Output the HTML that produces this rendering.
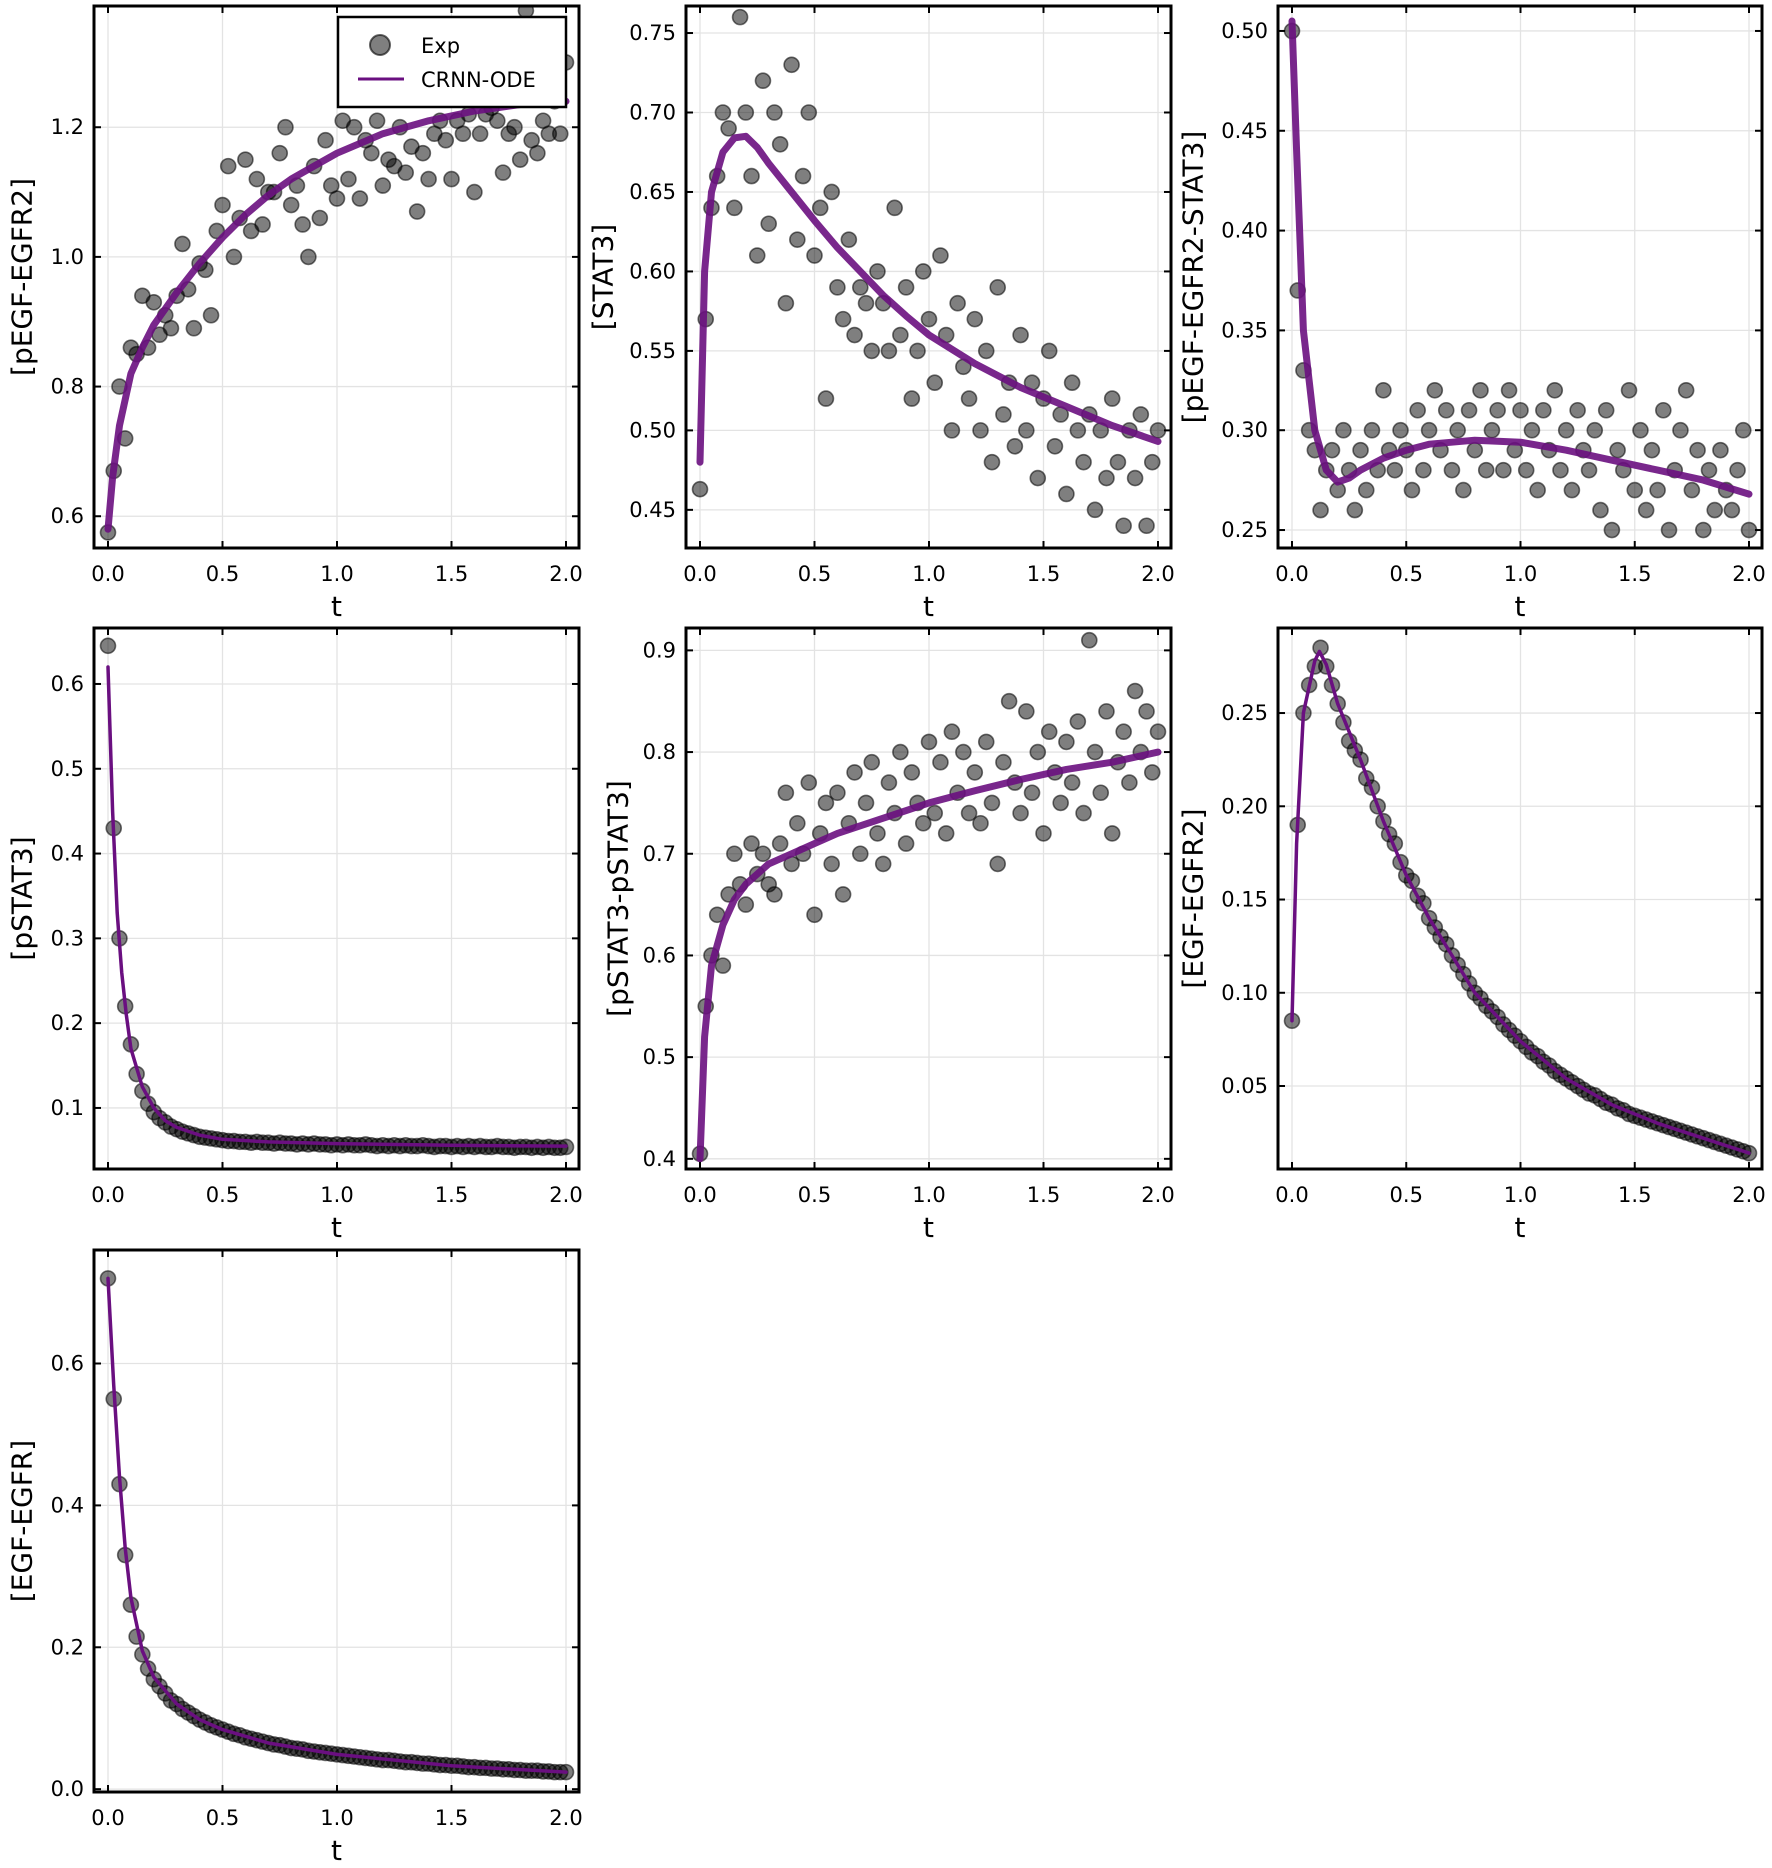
<!DOCTYPE html>
<html><head><meta charset="utf-8">
<style>
html,body{margin:0;padding:0;background:#fff;}
svg{display:block;font-family:"DejaVu Sans","Liberation Sans",sans-serif;}
</style></head>
<body>
<svg id="fig" width="1772" height="1868" viewBox="0 0 1772 1868" xmlns="http://www.w3.org/2000/svg"></svg>
<script>
const T = [0,0.025,0.05,0.075,0.1,0.125,0.15,0.175,0.2,0.225,0.25,0.275,0.3,0.325,0.35,0.375,0.4,0.425,0.45,0.475,0.5,0.525,0.55,0.575,0.6,0.625,0.65,0.675,0.7,0.725,0.75,0.775,0.8,0.825,0.85,0.875,0.9,0.925,0.95,0.975,1.0,1.025,1.05,1.075,1.1,1.125,1.15,1.175,1.2,1.225,1.25,1.275,1.3,1.325,1.35,1.375,1.4,1.425,1.45,1.475,1.5,1.525,1.55,1.575,1.6,1.625,1.65,1.675,1.7,1.725,1.75,1.775,1.8,1.825,1.85,1.875,1.9,1.925,1.95,1.975,2.0];
const xTicks = [0.0,0.5,1.0,1.5,2.0];
const xTickLabels = ["0.0","0.5","1.0","1.5","2.0"];

const p1Exp = [0.575,0.67,0.80,0.72,0.86,0.85,0.94,0.86,0.93,0.88,0.91,0.89,0.94,1.02,0.95,0.89,0.99,0.98,0.91,1.04,1.08,1.14,1.00,1.06,1.15,1.04,1.12,1.05,1.10,1.10,1.16,1.20,1.08,1.11,1.05,1.00,1.14,1.06,1.18,1.11,1.09,1.21,1.12,1.20,1.09,1.18,1.16,1.21,1.11,1.15,1.14,1.20,1.13,1.17,1.07,1.16,1.12,1.19,1.21,1.18,1.12,1.21,1.19,1.22,1.10,1.19,1.22,1.23,1.21,1.13,1.19,1.20,1.15,1.38,1.18,1.16,1.21,1.19,1.24,1.19,1.30];
const p1FitT = [0,0.02,0.05,0.1,0.15,0.2,0.3,0.4,0.5,0.6,0.7,0.8,0.9,1.0,1.2,1.4,1.6,1.8,2.0];
const p1Fit = [0.58,0.66,0.74,0.82,0.86,0.895,0.945,0.99,1.03,1.065,1.095,1.12,1.14,1.16,1.19,1.21,1.225,1.235,1.24];

const p2Exp = [0.463,0.57,0.64,0.66,0.70,0.69,0.64,0.76,0.70,0.66,0.61,0.72,0.63,0.70,0.68,0.58,0.73,0.62,0.66,0.70,0.61,0.64,0.52,0.65,0.59,0.57,0.62,0.56,0.59,0.58,0.55,0.60,0.58,0.55,0.64,0.56,0.59,0.52,0.55,0.60,0.57,0.53,0.61,0.56,0.50,0.58,0.54,0.52,0.57,0.50,0.55,0.48,0.59,0.51,0.53,0.49,0.56,0.50,0.53,0.47,0.52,0.55,0.49,0.51,0.46,0.53,0.50,0.48,0.51,0.45,0.50,0.47,0.52,0.48,0.44,0.50,0.47,0.51,0.44,0.48,0.50];
const p2FitT = [0,0.02,0.05,0.1,0.15,0.2,0.25,0.3,0.4,0.5,0.6,0.7,0.8,0.9,1.0,1.2,1.4,1.6,1.8,2.0];
const p2Fit = [0.48,0.60,0.65,0.675,0.684,0.685,0.678,0.668,0.65,0.632,0.615,0.60,0.585,0.572,0.56,0.542,0.527,0.515,0.503,0.493];

const p3Exp = [0.50,0.37,0.33,0.30,0.29,0.26,0.28,0.29,0.27,0.30,0.28,0.26,0.29,0.27,0.30,0.28,0.32,0.29,0.28,0.30,0.29,0.27,0.31,0.28,0.30,0.32,0.29,0.31,0.28,0.30,0.27,0.31,0.29,0.32,0.28,0.30,0.31,0.28,0.32,0.29,0.31,0.28,0.30,0.27,0.31,0.29,0.32,0.28,0.30,0.27,0.31,0.29,0.28,0.30,0.26,0.31,0.25,0.29,0.28,0.32,0.27,0.30,0.26,0.29,0.27,0.31,0.25,0.28,0.30,0.32,0.27,0.29,0.25,0.28,0.26,0.29,0.27,0.26,0.28,0.30,0.25];
const p3FitT = [0,0.02,0.05,0.1,0.15,0.2,0.25,0.3,0.4,0.5,0.6,0.8,1.0,1.2,1.4,1.6,1.8,2.0];
const p3Fit = [0.505,0.44,0.35,0.30,0.28,0.274,0.276,0.28,0.286,0.29,0.293,0.295,0.294,0.29,0.285,0.28,0.275,0.268];

const p4Exp = [0.645,0.43,0.30,0.22,0.175,0.14,0.12,0.105,0.095,0.088,0.083,0.078,0.075,0.072,0.070,0.068,0.066,0.065,0.064,0.063,0.062,0.061,0.061,0.060,0.060,0.059,0.060,0.059,0.059,0.058,0.059,0.058,0.058,0.057,0.058,0.057,0.058,0.057,0.057,0.056,0.057,0.056,0.057,0.056,0.056,0.057,0.056,0.055,0.056,0.055,0.056,0.055,0.056,0.055,0.055,0.056,0.055,0.054,0.055,0.055,0.054,0.055,0.054,0.055,0.054,0.055,0.054,0.054,0.055,0.054,0.054,0.053,0.054,0.054,0.053,0.054,0.053,0.054,0.053,0.053,0.054];
const p4FitT = [0,0.02,0.04,0.06,0.08,0.1,0.15,0.2,0.25,0.3,0.4,0.5,0.7,1.0,1.5,2.0];
const p4Fit = [0.62,0.45,0.33,0.26,0.21,0.17,0.125,0.10,0.085,0.077,0.068,0.063,0.060,0.058,0.056,0.055];

const p5Exp = [0.405,0.55,0.60,0.64,0.59,0.66,0.70,0.67,0.65,0.71,0.68,0.70,0.67,0.66,0.71,0.76,0.69,0.73,0.70,0.77,0.64,0.72,0.75,0.69,0.76,0.66,0.73,0.78,0.70,0.75,0.79,0.72,0.69,0.77,0.74,0.80,0.71,0.78,0.75,0.73,0.81,0.74,0.79,0.72,0.82,0.76,0.80,0.74,0.78,0.73,0.81,0.75,0.69,0.79,0.85,0.77,0.74,0.84,0.76,0.80,0.72,0.82,0.78,0.75,0.81,0.77,0.83,0.74,0.91,0.80,0.76,0.84,0.72,0.79,0.82,0.77,0.86,0.80,0.84,0.78,0.82];
const p5FitT = [0,0.02,0.05,0.1,0.15,0.2,0.3,0.4,0.5,0.6,0.8,1.0,1.2,1.4,1.6,1.8,2.0];
const p5Fit = [0.40,0.52,0.59,0.63,0.655,0.67,0.69,0.70,0.71,0.72,0.735,0.75,0.762,0.773,0.783,0.79,0.80];

const p6Exp = [0.085,0.19,0.25,0.265,0.275,0.285,0.275,0.265,0.255,0.245,0.235,0.23,0.225,0.215,0.21,0.20,0.192,0.185,0.18,0.17,0.163,0.16,0.152,0.148,0.14,0.135,0.13,0.126,0.12,0.115,0.11,0.105,0.10,0.097,0.093,0.09,0.087,0.083,0.08,0.077,0.074,0.071,0.068,0.066,0.063,0.061,0.058,0.056,0.054,0.052,0.05,0.048,0.046,0.045,0.043,0.041,0.04,0.038,0.037,0.035,0.034,0.033,0.032,0.031,0.03,0.029,0.028,0.027,0.026,0.025,0.024,0.023,0.022,0.021,0.02,0.019,0.018,0.017,0.016,0.015,0.014];
const p6FitT = [0,0.02,0.05,0.1,0.12,0.15,0.2,0.3,0.4,0.5,0.6,0.7,0.8,0.9,1.0,1.2,1.4,1.6,1.8,2.0];
const p6Fit = [0.085,0.18,0.25,0.278,0.283,0.276,0.255,0.225,0.192,0.163,0.14,0.12,0.10,0.087,0.074,0.054,0.04,0.03,0.022,0.014];

const p7Exp = [0.72,0.55,0.43,0.33,0.26,0.215,0.19,0.17,0.155,0.145,0.135,0.125,0.12,0.113,0.108,0.103,0.098,0.094,0.09,0.087,0.084,0.081,0.078,0.076,0.073,0.071,0.069,0.067,0.065,0.063,0.062,0.06,0.058,0.057,0.056,0.054,0.053,0.052,0.051,0.05,0.049,0.048,0.047,0.046,0.045,0.044,0.043,0.042,0.041,0.041,0.04,0.039,0.038,0.038,0.037,0.036,0.036,0.035,0.034,0.034,0.033,0.033,0.032,0.031,0.031,0.03,0.03,0.029,0.029,0.028,0.028,0.027,0.027,0.026,0.026,0.026,0.025,0.025,0.024,0.024,0.024];
const p7FitT = [0,0.025,0.05,0.075,0.1,0.15,0.2,0.3,0.4,0.5,0.7,1.0,1.5,2.0];
const p7Fit = [0.72,0.57,0.44,0.34,0.27,0.195,0.158,0.12,0.098,0.084,0.065,0.049,0.033,0.024];

const p1Ticks=[0.6,0.8,1.0,1.2], p1TickLabels=["0.6","0.8","1.0","1.2"];
const p2Ticks=[0.45,0.5,0.55,0.6,0.65,0.7,0.75], p2TickLabels=["0.45","0.50","0.55","0.60","0.65","0.70","0.75"];
const p3Ticks=[0.25,0.3,0.35,0.4,0.45,0.5], p3TickLabels=["0.25","0.30","0.35","0.40","0.45","0.50"];
const p4Ticks=[0.1,0.2,0.3,0.4,0.5,0.6], p4TickLabels=["0.1","0.2","0.3","0.4","0.5","0.6"];
const p5Ticks=[0.4,0.5,0.6,0.7,0.8,0.9], p5TickLabels=["0.4","0.5","0.6","0.7","0.8","0.9"];
const p6Ticks=[0.05,0.1,0.15,0.2,0.25], p6TickLabels=["0.05","0.10","0.15","0.20","0.25"];
const p7Ticks=[0.0,0.2,0.4,0.6], p7TickLabels=["0.0","0.2","0.4","0.6"];

const NS="http://www.w3.org/2000/svg";
const fig=document.getElementById('fig');
function mk(tag,attrs,parent){const e=document.createElementNS(NS,tag);for(const k in attrs)e.setAttribute(k,attrs[k]);(parent||fig).appendChild(e);return e;}

const panels=[
 {id:'pegf-egfr2',label:'[pEGF-EGFR2]',L:94,R:579,Tp:6,B:548,y0:0.551,y1:1.387,exp:p1Exp,ft:p1FitT,fv:p1Fit,ticks:p1Ticks,tl:p1TickLabels,thick:true,legend:true,ylx:22},
 {id:'stat3',label:'[STAT3]',L:686,R:1171,Tp:6,B:548,y0:0.426,y1:0.767,exp:p2Exp,ft:p2FitT,fv:p2Fit,ticks:p2Ticks,tl:p2TickLabels,thick:true,ylx:603},
 {id:'pegf-egfr2-stat3',label:'[pEGF-EGFR2-STAT3]',L:1278,R:1762,Tp:6,B:548,y0:0.241,y1:0.5125,exp:p3Exp,ft:p3FitT,fv:p3Fit,ticks:p3Ticks,tl:p3TickLabels,thick:true,ylx:1193},
 {id:'pstat3',label:'[pSTAT3]',L:94,R:579,Tp:628,B:1169,y0:0.028,y1:0.666,exp:p4Exp,ft:p4FitT,fv:p4Fit,ticks:p4Ticks,tl:p4TickLabels,thick:false,ylx:22},
 {id:'pstat3-pstat3',label:'[pSTAT3-pSTAT3]',L:686,R:1171,Tp:628,B:1169,y0:0.390,y1:0.922,exp:p5Exp,ft:p5FitT,fv:p5Fit,ticks:p5Ticks,tl:p5TickLabels,thick:true,ylx:618},
 {id:'egf-egfr2',label:'[EGF-EGFR2]',L:1278,R:1762,Tp:628,B:1169,y0:0.0055,y1:0.2956,exp:p6Exp,ft:p6FitT,fv:p6Fit,ticks:p6Ticks,tl:p6TickLabels,thick:false,ylx:1193},
 {id:'egf-egfr',label:'[EGF-EGFR]',L:94,R:579,Tp:1250,B:1792,y0:-0.004,y1:0.760,exp:p7Exp,ft:p7FitT,fv:p7Fit,ticks:p7Ticks,tl:p7TickLabels,thick:false,ylx:22}
];

panels.forEach(p=>{
  const g=mk('g',{});
  
  
  const xs=t=>p.L+14+(t-0)*(p.R-13-p.L-14)/2;
  const ys=v=>p.B-(v-p.y0)*(p.B-p.Tp)/(p.y1-p.y0);
  const clipId='clip-'+p.id;
  const cp=mk('clipPath',{id:clipId},g);mk('rect',{x:p.L,y:p.Tp,width:p.R-p.L,height:p.B-p.Tp},cp);
  xTicks.forEach(t=>{const l=mk('line',{x1:xs(t),x2:xs(t),y1:p.Tp,y2:p.B,stroke:'#e3e3e3','stroke-width':1.3},g);
    });
  p.ticks.forEach(v=>{const l=mk('line',{x1:p.L,x2:p.R,y1:ys(v),y2:ys(v),stroke:'#e3e3e3','stroke-width':1.3},g);
    });
  const dg=mk('g',{'clip-path':'url(#'+clipId+')'},g);
  p.exp.forEach((v,i)=>{const c=mk('circle',{cx:xs(T[i]),cy:ys(v),r:7.5,fill:'rgba(0,0,0,0.5)',stroke:'rgba(0,0,0,0.55)','stroke-width':1.6},dg);
    });
  const d=p.fv.map((v,i)=>(i?'L':'M')+xs(p.ft[i]).toFixed(1)+','+ys(v).toFixed(1)).join(' ');
  const ln=mk('path',{d:d,fill:'none',stroke:'#6a0f80','stroke-width':p.thick?7:3.5,'stroke-opacity':p.thick?0.9:1,'stroke-linejoin':'round','stroke-linecap':'round'},dg);
  
  xTicks.forEach((t,i)=>{
    mk('line',{x1:xs(t),x2:xs(t),y1:p.B,y2:p.B-7,stroke:'#000','stroke-width':2},g);
    mk('line',{x1:xs(t),x2:xs(t),y1:p.Tp,y2:p.Tp+7,stroke:'#000','stroke-width':2},g);
    const tx=mk('text',{x:xs(t),y:p.B+33,'font-size':21,'text-anchor':'middle',fill:'#000'},g);tx.textContent=xTickLabels[i];
    
  });
  p.ticks.forEach((v,i)=>{
    mk('line',{x1:p.L,x2:p.L+7,y1:ys(v),y2:ys(v),stroke:'#000','stroke-width':2},g);
    mk('line',{x1:p.R,x2:p.R-7,y1:ys(v),y2:ys(v),stroke:'#000','stroke-width':2},g);
    const tx=mk('text',{x:p.L-10,y:ys(v)+7,'font-size':21,'text-anchor':'end',fill:'#000'},g);tx.textContent=p.tl[i];
    
  });
  const fr=mk('rect',{x:p.L,y:p.Tp,width:p.R-p.L,height:p.B-p.Tp,fill:'none',stroke:'#000','stroke-width':3},g);
  
  const xl=mk('text',{x:(p.L+p.R)/2,y:p.B+68,'font-size':28,'text-anchor':'middle',fill:'#000'},g);xl.textContent='t';
  
  const cy=(p.Tp+p.B)/2;
  const yl=mk('text',{x:p.ylx,y:cy,'font-size':28,'text-anchor':'middle','dominant-baseline':'central',fill:'#000',transform:'rotate(-90 '+p.ylx+' '+cy+')'},g);yl.textContent=p.label;
  
  if(p.legend){
    const lg=mk('g',{},g);
    
    mk('rect',{x:338,y:17,width:228,height:90,fill:'#fff',stroke:'#000','stroke-width':2.5},lg);
    mk('circle',{cx:380,cy:45,r:10,fill:'rgba(0,0,0,0.5)',stroke:'rgba(0,0,0,0.6)','stroke-width':2},lg);
    const t1=mk('text',{x:421,y:53,'font-size':21,fill:'#000'},lg);t1.textContent='Exp';
    
    mk('line',{x1:358,x2:404,y1:79,y2:79,stroke:'#6a0f80','stroke-width':3},lg);
    const t2=mk('text',{x:421,y:87,'font-size':21,fill:'#000'},lg);t2.textContent='CRNN-ODE';
    
  }
});
</script>
</body></html>
